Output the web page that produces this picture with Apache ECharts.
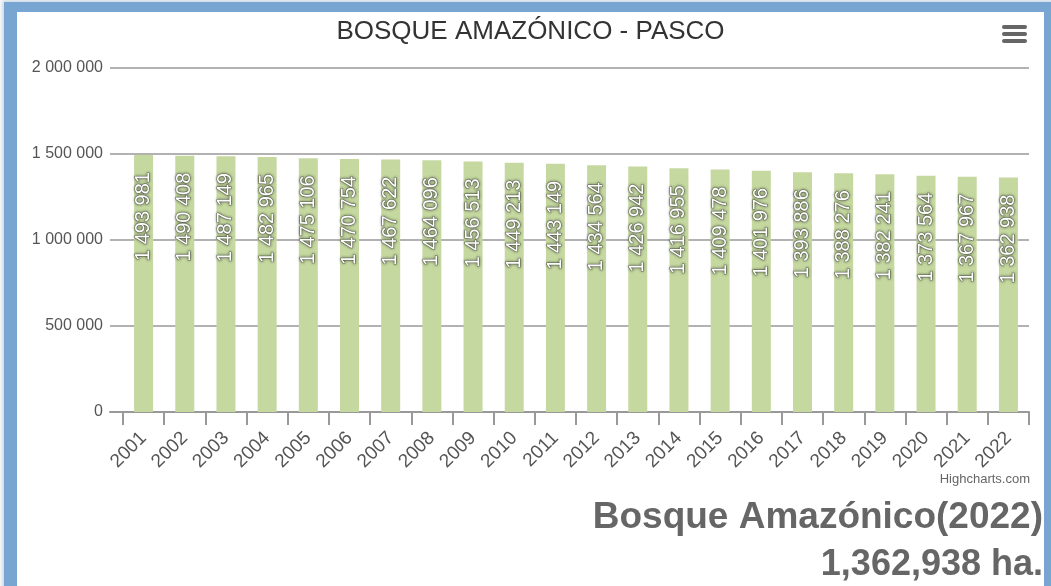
<!DOCTYPE html>
<html>
<head>
<meta charset="utf-8">
<script src="https://cdn.jsdelivr.net/npm/echarts@6/dist/echarts.min.js"></script>
<style>
  html, body { margin: 0; padding: 0; background: #fff; overflow: hidden; }
  #frame {
    position: absolute; left: 4px; top: 2px; width: 1052px; height: 600px;
    background: #79a5d2;
    box-shadow: 0 0 4px 2px #c9d6e3;
  }
  #chart {
    position: absolute; left: 17px; top: 12px; width: 1027px; height: 574px;
    background: #fff;
  }
</style>
</head>
<body>
<div id="frame"></div>
<div id="chart"></div>
<script>
var years = ["2001", "2002", "2003", "2004", "2005", "2006", "2007", "2008", "2009", "2010", "2011",
  "2012", "2013", "2014", "2015", "2016", "2017", "2018", "2019", "2020", "2021", "2022"];
var bosque = [1493981, 1490408, 1487149, 1482965, 1475106, 1470754, 1467622, 1464096, 1456513, 1449213, 1443149,
  1434564, 1426942, 1416955, 1409478, 1401976, 1393886, 1388276, 1382241, 1373564, 1367967, 1362938];
var yTicks = { min: 0, max: 2000000, step: 500000 };

var fmtSpace = (v) => String(v).replace(/\B(?=(\d{3})+(?!\d))/g, " ");
var fmtComma = (v) => String(v).replace(/\B(?=(\d{3})+(?!\d))/g, ",");
var lastYear = years[years.length - 1];
var lastVal = bosque[bosque.length - 1];

var chart = echarts.init(document.getElementById("chart"));
var font = "'Liberation Sans', Arial, sans-serif";

chart.setOption({
  animation: false,
  backgroundColor: "#fff",
  textStyle: { fontFamily: font },
  title: {
    text: "BOSQUE AMAZÓNICO - PASCO",
    left: "center",
    top: 2,
    textStyle: { fontSize: 26, fontWeight: "normal", color: "#333", fontFamily: font },
  },
  grid: [
    { left: 93, right: 15, top: 56, bottom: 174 },
    { left: 106, right: 15, top: 56, bottom: 174 },
  ],
  xAxis: [
    {
      gridIndex: 0, type: "value", min: 0, max: 1,
      axisLine: { show: true, lineStyle: { color: "#999", width: 2 } },
      axisTick: { show: false }, axisLabel: { show: false }, splitLine: { show: false },
    },
    {
      gridIndex: 1, type: "category", data: years,
      axisLine: { show: false },
      axisTick: { show: true, interval: 0, length: 13, lineStyle: { color: "#999", width: 2 } },
      axisLabel: { interval: 0, rotate: 45, margin: 23, fontSize: 19, color: "#555", fontFamily: font },
    },
  ],
  yAxis: [
    {
      gridIndex: 0, type: "value", min: yTicks.min, max: yTicks.max, interval: yTicks.step,
      axisLine: { show: false }, axisTick: { show: false },
      axisLabel: { margin: 7, fontSize: 16, color: "#555", formatter: fmtSpace, fontFamily: font },
      splitLine: { lineStyle: { color: "#999", width: 1.5 } },
    },
    {
      gridIndex: 1, type: "value", min: yTicks.min, max: yTicks.max, interval: yTicks.step,
      show: false, splitLine: { show: false },
    },
  ],
  series: [
    {
      type: "bar",
      xAxisIndex: 1, yAxisIndex: 1,
      data: bosque,
      barWidth: 19,
      itemStyle: { color: "#c5d8a0" },
      label: {
        show: true,
        position: "insideTop",
        rotate: 90,
        align: "right",
        verticalAlign: "middle",
        distance: 17,
        formatter: (p) => fmtSpace(p.value),
        color: "#fff",
        fontSize: 20,
        fontFamily: font,
        textBorderColor: "rgba(60,60,60,0.55)",
        textBorderWidth: 1,
        textShadowColor: "rgba(0,0,0,0.55)",
        textShadowBlur: 3,
      },
    },
  ],
  graphic: [
    { type: "rect", left: 985, top: 13, shape: { width: 25, height: 4, r: 2 }, style: { fill: "#666" } },
    { type: "rect", left: 985, top: 20, shape: { width: 25, height: 4, r: 2 }, style: { fill: "#666" } },
    { type: "rect", left: 985, top: 27, shape: { width: 25, height: 4, r: 2 }, style: { fill: "#666" } },
    {
      type: "text", right: 14, top: 461,
      style: { text: "Highcharts.com", fill: "#666", font: "13px " + font },
    },
    {
      type: "text", right: 1, top: 487,
      style: {
        text: "Bosque Amazónico(" + lastYear + ")", fill: "#666",
        font: "bold 37px " + font,
        shadowColor: "rgba(0,0,0,0.35)", shadowBlur: 2, shadowOffsetX: 1, shadowOffsetY: 1,
      },
    },
    {
      type: "text", right: 1, top: 535,
      style: {
        text: fmtComma(lastVal) + " ha.", fill: "#666",
        font: "bold 36px " + font,
        shadowColor: "rgba(0,0,0,0.35)", shadowBlur: 2, shadowOffsetX: 1, shadowOffsetY: 1,
      },
    },
  ],
});
</script>
</body>
</html>
